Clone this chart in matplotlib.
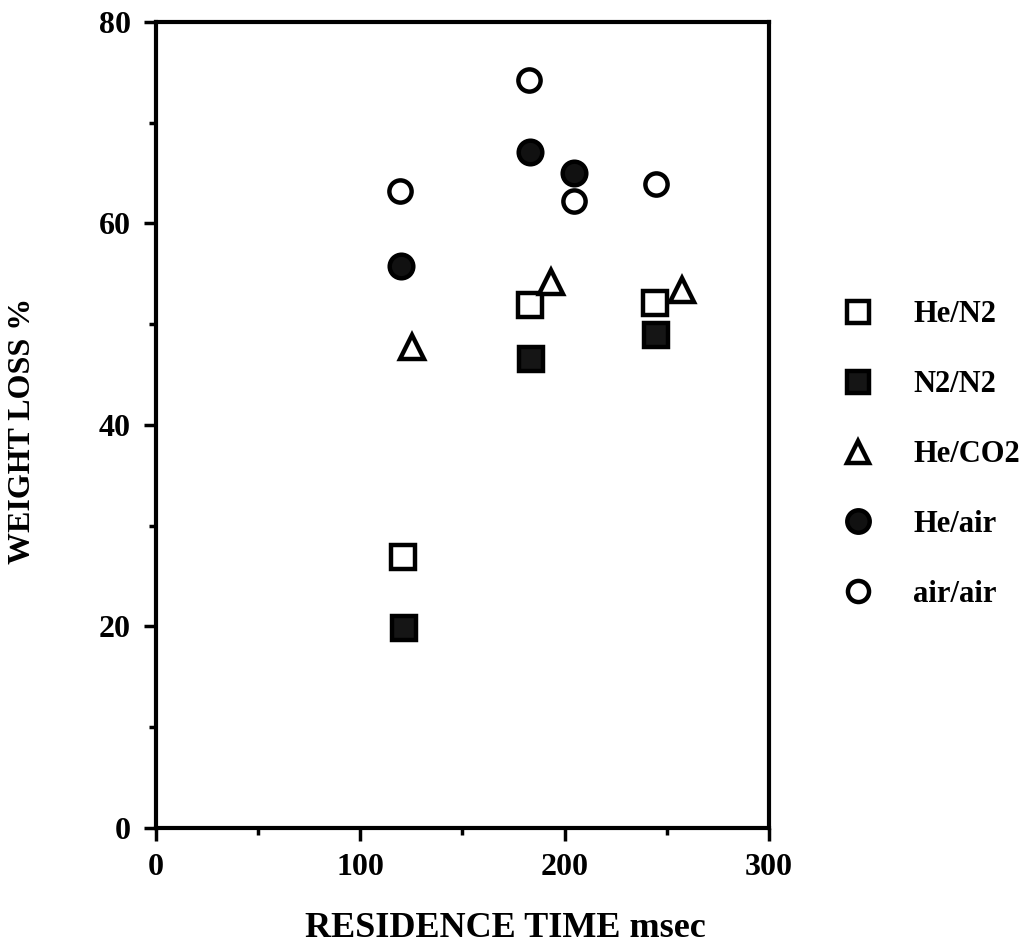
import matplotlib.pyplot as plt
from matplotlib.ticker import MultipleLocator

## Values.
he_n2_x = [121, 183, 244]
he_n2_y = [26.9, 51.9, 52.1]

n2_n2_x = [121.5, 183.5, 244.5]
n2_n2_y = [19.8, 46.5, 48.9]

he_co2_x = [125.5, 193.3, 257.6]
he_co2_y = [47.7, 54.2, 53.4]

he_air_x = [120, 183, 204.8]
he_air_y = [55.8, 67.1, 65.0]

air_air_x = [119.7, 182.5, 204.8, 244.5]
air_air_y = [63.2, 74.2, 62.2, 63.9]

plt.rcParams['font.family'] = ['Liberation Serif', 'DejaVu Serif']
plt.rcParams['font.weight'] = 'bold'

fig = plt.figure(figsize=(10.24, 9.49), dpi=100)
ax = fig.add_axes([0.152, 0.1275, 0.599, 0.8495])

mk = dict(linestyle='none', color='black', markeredgewidth=3.2)
ax.plot(he_n2_x, he_n2_y, marker='s', markersize=17, markerfacecolor='white', label='He/N2', **mk)
ax.plot(n2_n2_x, n2_n2_y, marker='s', markersize=17, markerfacecolor='#151515', label='N2/N2', **mk)
ax.plot(he_co2_x, he_co2_y, marker='^', markersize=17, markerfacecolor='white', label='He/CO2', **mk)
ax.plot(he_air_x, he_air_y, marker='o', markersize=17, markerfacecolor='#111111', label='He/air', **mk)
ax.plot(air_air_x, air_air_y, marker='o', markersize=16, markerfacecolor='white', label='air/air', **mk)

ax.set_xlim(0, 300)
ax.set_ylim(0, 80)
ax.xaxis.set_major_locator(MultipleLocator(100))
ax.xaxis.set_minor_locator(MultipleLocator(50))
ax.yaxis.set_major_locator(MultipleLocator(20))
ax.yaxis.set_minor_locator(MultipleLocator(10))
ax.tick_params(which='both', direction='out', width=2.5, top=False, right=False)
ax.tick_params(which='major', length=9, labelsize=23, pad=9)
ax.tick_params(which='minor', length=5)
for s in ax.spines.values():
    s.set_linewidth(3)

ax.set_xlabel('RESIDENCE TIME msec', fontsize=26, fontweight='bold')
ax.xaxis.set_label_coords(0.57, -0.104)
ax.set_ylabel('WEIGHT LOSS %', fontsize=23, fontweight='bold')
ax.yaxis.set_label_coords(-0.193, 0.493)

leg = ax.legend(loc='center left', bbox_to_anchor=(1.101, 0.463), frameon=False,
                borderaxespad=0, fontsize=22, markerscale=0.95, labelspacing=1.34,
                handletextpad=1.3, handlelength=1.0)

fig.savefig('out.png', dpi=100)
